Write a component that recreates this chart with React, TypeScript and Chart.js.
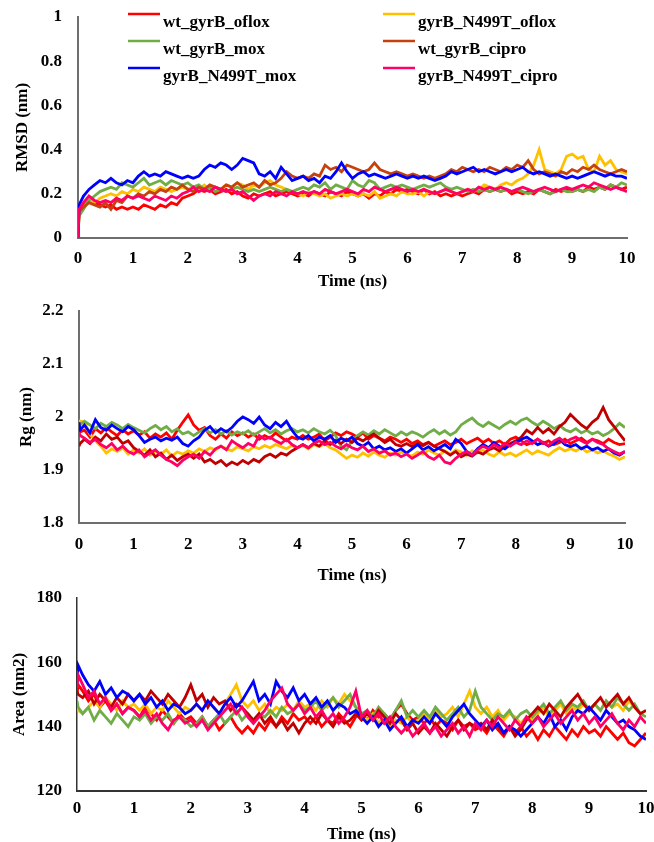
import React, { useEffect, useRef } from "react";
import { Chart, registerables } from "chart.js";

Chart.register(...registerables);

const SERIF = "'Liberation Serif', 'Times New Roman', serif";

const SERIES_NAMES = [
  "wt_gyrB_oflox",
  "gyrB_N499T_oflox",
  "wt_gyrB_mox",
  "wt_gyrB_cipro",
  "gyrB_N499T_mox",
  "gyrB_N499T_cipro",
];

const COLORS_TOP = ["#FF0000", "#FFC000", "#70AD47", "#C5420F", "#0000FF", "#FF0066"];
const COLORS_LOWER = ["#FF0000", "#FFC000", "#70AD47", "#C00000", "#0000FF", "#FF0066"];

const TIME = [
  0, 0.02,
  0.1, 0.2, 0.3, 0.4, 0.5, 0.6, 0.7, 0.8, 0.9, 1,
  1.1, 1.2, 1.3, 1.4, 1.5, 1.6, 1.7, 1.8, 1.9, 2,
  2.1, 2.2, 2.3, 2.4, 2.5, 2.6, 2.7, 2.8, 2.9, 3,
  3.1, 3.2, 3.3, 3.4, 3.5, 3.6, 3.7, 3.8, 3.9, 4,
  4.1, 4.2, 4.3, 4.4, 4.5, 4.6, 4.7, 4.8, 4.9, 5,
  5.1, 5.2, 5.3, 5.4, 5.5, 5.6, 5.7, 5.8, 5.9, 6,
  6.1, 6.2, 6.3, 6.4, 6.5, 6.6, 6.7, 6.8, 6.9, 7,
  7.1, 7.2, 7.3, 7.4, 7.5, 7.6, 7.7, 7.8, 7.9, 8,
  8.1, 8.2, 8.3, 8.4, 8.5, 8.6, 8.7, 8.8, 8.9, 9,
  9.1, 9.2, 9.3, 9.4, 9.5, 9.6, 9.7, 9.8, 9.9, 10,
];

const X_TICKS = [0, 1, 2, 3, 4, 5, 6, 7, 8, 9, 10];
const RMSD_TICKS = [0, 0.2, 0.4, 0.6, 0.8, 1];
const RG_TICKS = [1.8, 1.9, 2, 2.1, 2.2];
const AREA_TICKS = [120, 140, 160, 180];

// ---------- RMSD (nm) ----------
const RMSD_WT_OFLOX = [
  0, 0.12,
  0.15, 0.17, 0.16, 0.15, 0.14, 0.15, 0.13, 0.14, 0.13, 0.14,
  0.13, 0.15, 0.14, 0.13, 0.15, 0.14, 0.16, 0.15, 0.18, 0.19,
  0.20, 0.22, 0.21, 0.22, 0.20, 0.21, 0.22, 0.20, 0.21, 0.19,
  0.18, 0.20, 0.19, 0.20, 0.21, 0.19, 0.20, 0.21, 0.20, 0.19,
  0.20, 0.19, 0.21, 0.20, 0.19, 0.21, 0.20, 0.19, 0.21, 0.20,
  0.19, 0.20, 0.18, 0.20, 0.19, 0.21, 0.20, 0.22, 0.21, 0.22,
  0.21, 0.20, 0.22, 0.20, 0.21, 0.19, 0.20, 0.19, 0.20, 0.19,
  0.20, 0.21, 0.20, 0.22, 0.21, 0.22, 0.21, 0.22, 0.20, 0.21,
  0.20, 0.21, 0.20, 0.22, 0.21, 0.20, 0.22, 0.21, 0.22, 0.21,
  0.22, 0.21, 0.23, 0.22, 0.23, 0.22, 0.24, 0.23, 0.22, 0.23,
];
const RMSD_MUT_OFLOX = [
  0, 0.12,
  0.14, 0.17, 0.16, 0.18, 0.19, 0.20, 0.19, 0.21, 0.20, 0.22,
  0.21, 0.23, 0.22, 0.21, 0.23, 0.22, 0.21, 0.22, 0.23, 0.22,
  0.23, 0.22, 0.24, 0.22, 0.23, 0.22, 0.24, 0.23, 0.25, 0.24,
  0.22, 0.24, 0.23, 0.25, 0.26, 0.24, 0.23, 0.22, 0.21, 0.20,
  0.19, 0.21, 0.20, 0.19, 0.20, 0.18, 0.19, 0.20, 0.19, 0.20,
  0.19, 0.20, 0.19, 0.21, 0.18, 0.19, 0.20, 0.19, 0.21, 0.20,
  0.20, 0.21, 0.19, 0.21, 0.20, 0.21, 0.22, 0.21, 0.20, 0.21,
  0.22, 0.21, 0.22, 0.24, 0.23, 0.22, 0.24, 0.25, 0.24, 0.26,
  0.27, 0.29, 0.33, 0.40, 0.31, 0.30, 0.29, 0.31, 0.37, 0.38,
  0.36, 0.37, 0.31, 0.30, 0.37, 0.33, 0.35, 0.31, 0.30, 0.29,
];
const RMSD_WT_MOX = [
  0, 0.10,
  0.13, 0.17, 0.19, 0.21, 0.22, 0.23, 0.22, 0.25, 0.24, 0.23,
  0.25, 0.27, 0.24, 0.25, 0.26, 0.24, 0.26, 0.25, 0.24, 0.25,
  0.23, 0.24, 0.22, 0.23, 0.21, 0.22, 0.21, 0.22, 0.23, 0.22,
  0.21, 0.22, 0.21, 0.22, 0.23, 0.22, 0.21, 0.22, 0.21, 0.22,
  0.23, 0.22, 0.24, 0.23, 0.25, 0.22, 0.24, 0.23, 0.22, 0.26,
  0.24, 0.23, 0.26, 0.25, 0.22, 0.23, 0.24, 0.23, 0.24, 0.23,
  0.22, 0.23, 0.24, 0.23, 0.24, 0.25, 0.23, 0.22, 0.23, 0.22,
  0.21, 0.22, 0.21, 0.22, 0.21, 0.22, 0.21, 0.22, 0.21, 0.22,
  0.21, 0.20, 0.21, 0.22, 0.21, 0.20, 0.21, 0.22, 0.21, 0.21,
  0.22, 0.21, 0.22, 0.21, 0.23, 0.22, 0.24, 0.23, 0.25, 0.24,
];
const RMSD_WT_CIPRO = [
  0, 0.12,
  0.14, 0.16, 0.15, 0.14, 0.16, 0.13, 0.17, 0.16, 0.19, 0.18,
  0.20, 0.19, 0.21, 0.20, 0.22, 0.21, 0.23, 0.22, 0.24, 0.22,
  0.21, 0.23, 0.22, 0.24, 0.23, 0.22, 0.24, 0.23, 0.25, 0.23,
  0.24, 0.25, 0.23, 0.26, 0.24, 0.25, 0.27, 0.30, 0.28, 0.27,
  0.28, 0.27, 0.29, 0.28, 0.33, 0.31, 0.32, 0.30, 0.33, 0.32,
  0.31, 0.30, 0.31, 0.34, 0.31, 0.30, 0.29, 0.30, 0.29, 0.28,
  0.29, 0.28, 0.27, 0.28, 0.27, 0.28, 0.29, 0.31, 0.30, 0.32,
  0.31, 0.30, 0.31, 0.30, 0.32, 0.31, 0.30, 0.32, 0.31, 0.33,
  0.32, 0.35, 0.31, 0.29, 0.30, 0.29, 0.28, 0.30, 0.29, 0.31,
  0.30, 0.32, 0.31, 0.33, 0.31, 0.30, 0.29, 0.30, 0.31, 0.30,
];
const RMSD_MUT_MOX = [
  0, 0.15,
  0.19, 0.22, 0.24, 0.26, 0.25, 0.27, 0.25, 0.24, 0.26, 0.25,
  0.28, 0.30, 0.28, 0.29, 0.28, 0.30, 0.29, 0.28, 0.27, 0.28,
  0.27, 0.28, 0.31, 0.33, 0.32, 0.34, 0.33, 0.31, 0.33, 0.36,
  0.35, 0.34, 0.29, 0.28, 0.30, 0.27, 0.32, 0.29, 0.26, 0.27,
  0.28, 0.26, 0.27, 0.25, 0.28, 0.27, 0.30, 0.34, 0.30, 0.27,
  0.29, 0.30, 0.28, 0.29, 0.28, 0.27, 0.28, 0.29, 0.28, 0.27,
  0.28, 0.27, 0.28, 0.27, 0.26, 0.27, 0.28, 0.30, 0.29, 0.30,
  0.31, 0.32, 0.30, 0.31, 0.30, 0.29, 0.30, 0.31, 0.30, 0.31,
  0.32, 0.30, 0.29, 0.30, 0.29, 0.28, 0.29, 0.28, 0.27, 0.28,
  0.27, 0.28, 0.29, 0.30, 0.29, 0.28, 0.29, 0.28, 0.28, 0.27,
];
const RMSD_MUT_CIPRO = [
  0, 0.13,
  0.16, 0.19, 0.17, 0.16, 0.17, 0.16, 0.18, 0.17, 0.19, 0.18,
  0.19, 0.18, 0.17, 0.19, 0.18, 0.17, 0.19, 0.18, 0.20, 0.21,
  0.23, 0.21, 0.22, 0.21, 0.23, 0.22, 0.21, 0.22, 0.20, 0.21,
  0.19, 0.17, 0.19, 0.20, 0.19, 0.21, 0.20, 0.19, 0.21, 0.20,
  0.21, 0.20, 0.21, 0.20, 0.22, 0.21, 0.20, 0.21, 0.22, 0.21,
  0.20, 0.22, 0.21, 0.23, 0.22, 0.21, 0.22, 0.23, 0.22, 0.21,
  0.22, 0.21, 0.22, 0.21, 0.20, 0.21, 0.22, 0.21, 0.20, 0.21,
  0.22, 0.21, 0.23, 0.22, 0.23, 0.22, 0.23, 0.22, 0.21, 0.22,
  0.23, 0.22, 0.21, 0.22, 0.23, 0.22, 0.21, 0.22, 0.23, 0.22,
  0.23, 0.24, 0.23, 0.25, 0.24, 0.23, 0.22, 0.23, 0.22, 0.21,
];

// ---------- Rg (nm) ----------
const RG_WT_OFLOX = [
  1.968, 1.972,
  1.975, 1.962, 1.978, 1.970, 1.980, 1.972, 1.965, 1.976, 1.968, 1.974,
  1.966, 1.972, 1.960, 1.968, 1.962, 1.970, 1.958, 1.975, 1.990, 2.004,
  1.985, 1.975, 1.980, 1.965, 1.958, 1.968, 1.960, 1.972, 1.965, 1.970,
  1.962, 1.968, 1.958, 1.965, 1.960, 1.970, 1.962, 1.955, 1.962, 1.958,
  1.965, 1.958, 1.962, 1.968, 1.955, 1.962, 1.970, 1.965, 1.972, 1.968,
  1.962, 1.970, 1.958, 1.965, 1.960, 1.955, 1.962, 1.958, 1.952, 1.958,
  1.950, 1.955, 1.948, 1.952, 1.945, 1.950, 1.955, 1.948, 1.952, 1.958,
  1.950, 1.955, 1.960, 1.952, 1.958, 1.950, 1.955, 1.948, 1.958, 1.962,
  1.955, 1.948, 1.952, 1.958, 1.950, 1.955, 1.948, 1.952, 1.958, 1.950,
  1.955, 1.960, 1.952, 1.958, 1.955, 1.950, 1.958, 1.952, 1.948, 1.950,
];
const RG_MUT_OFLOX = [
  1.985, 1.992,
  1.990, 1.968, 1.955, 1.945, 1.932, 1.940, 1.935, 1.942, 1.930, 1.938,
  1.932, 1.940, 1.928, 1.935, 1.930, 1.938, 1.926, 1.934, 1.930, 1.936,
  1.932, 1.940, 1.935, 1.942, 1.938, 1.945, 1.940, 1.936, 1.944, 1.940,
  1.936, 1.944, 1.940, 1.946, 1.942, 1.948, 1.944, 1.940, 1.946, 1.942,
  1.946, 1.940, 1.948, 1.944, 1.950, 1.942, 1.938, 1.930, 1.922, 1.928,
  1.924, 1.932, 1.926, 1.934, 1.928, 1.924, 1.932, 1.928, 1.934, 1.930,
  1.926, 1.934, 1.930, 1.938, 1.932, 1.928, 1.936, 1.930, 1.938, 1.934,
  1.928, 1.936, 1.932, 1.938, 1.930, 1.926, 1.934, 1.928, 1.932, 1.926,
  1.932, 1.938, 1.930, 1.936, 1.932, 1.928, 1.936, 1.942, 1.936, 1.940,
  1.936, 1.942, 1.934, 1.938, 1.932, 1.936, 1.930, 1.926, 1.920, 1.925,
];
const RG_WT_MOX = [
  1.975, 1.985,
  1.992, 1.985, 1.978, 1.988, 1.982, 1.990, 1.985, 1.978, 1.986, 1.980,
  1.975, 1.970, 1.978, 1.984, 1.976, 1.982, 1.972, 1.978, 1.968, 1.972,
  1.965, 1.972, 1.978, 1.970, 1.976, 1.968, 1.974, 1.966, 1.972, 1.968,
  1.974, 1.966, 1.972, 1.978, 1.970, 1.976, 1.968, 1.974, 1.978, 1.972,
  1.976, 1.970, 1.978, 1.972, 1.968, 1.975, 1.965, 1.945, 1.938, 1.955,
  1.965, 1.972, 1.966, 1.974, 1.968, 1.976, 1.970, 1.964, 1.972, 1.966,
  1.972, 1.968, 1.962, 1.970, 1.976, 1.968, 1.974, 1.966, 1.972, 1.985,
  1.992, 1.998, 1.988, 1.982, 1.990, 1.984, 1.978, 1.986, 1.992, 1.986,
  1.994, 1.998, 1.990, 1.984, 1.992, 1.986, 1.978, 1.984, 1.976, 1.972,
  1.978, 1.970, 1.975, 1.968, 1.972, 1.965, 1.970, 1.978, 1.988, 1.980,
];
const RG_WT_CIPRO = [
  1.945, 1.950,
  1.958, 1.950, 1.962, 1.955, 1.968, 1.958, 1.962, 1.950, 1.955, 1.942,
  1.935, 1.928, 1.938, 1.925, 1.932, 1.920, 1.928, 1.918, 1.925, 1.930,
  1.922, 1.930, 1.915, 1.920, 1.912, 1.918, 1.908, 1.915, 1.910, 1.918,
  1.912, 1.920, 1.915, 1.925, 1.930, 1.924, 1.932, 1.928, 1.936, 1.942,
  1.948, 1.942, 1.950, 1.945, 1.955, 1.948, 1.956, 1.950, 1.958, 1.952,
  1.960, 1.955, 1.962, 1.968, 1.960, 1.952, 1.958, 1.948, 1.945, 1.950,
  1.944, 1.950, 1.946, 1.952, 1.945, 1.940, 1.935, 1.928, 1.935, 1.925,
  1.930, 1.926, 1.934, 1.930, 1.938, 1.942, 1.936, 1.945, 1.950, 1.955,
  1.962, 1.975, 1.968, 1.980, 1.970, 1.978, 1.968, 1.982, 1.990, 2.005,
  1.995, 1.985, 1.978, 1.990, 1.998, 2.018, 1.995, 1.982, 1.968, 1.955,
];
const RG_MUT_MOX = [
  1.990, 1.975,
  1.985, 1.970, 1.995, 1.980, 1.975, 1.985, 1.978, 1.972, 1.982, 1.976,
  1.965, 1.952, 1.958, 1.962, 1.955, 1.960, 1.956, 1.962, 1.950, 1.945,
  1.955, 1.962, 1.975, 1.982, 1.970, 1.978, 1.972, 1.980, 1.992, 2.000,
  1.995, 1.988, 2.000, 1.985, 1.978, 1.990, 1.982, 1.992, 1.975, 1.962,
  1.958, 1.965, 1.955, 1.962, 1.958, 1.965, 1.952, 1.960, 1.955, 1.962,
  1.950, 1.945, 1.952, 1.940, 1.945, 1.938, 1.942, 1.935, 1.940, 1.932,
  1.940, 1.948, 1.938, 1.944, 1.936, 1.942, 1.948, 1.940, 1.958, 1.950,
  1.935, 1.928, 1.940, 1.948, 1.942, 1.952, 1.945, 1.940, 1.948, 1.952,
  1.958, 1.962, 1.955, 1.948, 1.952, 1.945, 1.950, 1.958, 1.948, 1.944,
  1.948, 1.940, 1.945, 1.938, 1.942, 1.935, 1.940, 1.932, 1.928, 1.935,
];
const RG_MUT_CIPRO = [
  1.972, 1.965,
  1.960, 1.952, 1.958, 1.948, 1.942, 1.950, 1.938, 1.945, 1.935, 1.930,
  1.938, 1.925, 1.932, 1.938, 1.928, 1.920, 1.915, 1.908, 1.918, 1.925,
  1.930, 1.922, 1.935, 1.928, 1.940, 1.945, 1.938, 1.955, 1.948, 1.942,
  1.950, 1.945, 1.965, 1.958, 1.962, 1.955, 1.950, 1.958, 1.948, 1.942,
  1.948, 1.942, 1.950, 1.955, 1.948, 1.952, 1.945, 1.940, 1.948, 1.942,
  1.938, 1.945, 1.935, 1.940, 1.932, 1.936, 1.928, 1.932, 1.925, 1.930,
  1.922, 1.928, 1.935, 1.925, 1.920, 1.928, 1.915, 1.912, 1.922, 1.930,
  1.935, 1.928, 1.938, 1.945, 1.940, 1.948, 1.942, 1.950, 1.945, 1.952,
  1.948, 1.955, 1.950, 1.958, 1.952, 1.946, 1.955, 1.960, 1.952, 1.958,
  1.962, 1.955, 1.950, 1.958, 1.952, 1.948, 1.940, 1.935, 1.930, 1.935,
];

// ---------- Area (nm2) ----------
const AREA_WT_OFLOX = [
  150, 153,
  151, 148, 150, 146, 148, 145, 147, 144, 146, 145,
  143, 146, 144, 142, 145, 143, 141, 144, 142, 143,
  141, 143, 140, 142, 139, 141, 143, 140, 138, 140,
  138, 141, 139, 142, 140, 143, 141, 144, 142, 143,
  141, 143, 140, 142, 141, 144, 142, 140, 143, 144,
  142, 145, 143, 144, 142, 145, 147, 144, 142, 143,
  141, 143, 140, 142, 141, 139, 142, 140, 141, 139,
  140, 138, 141, 139, 137, 140, 138, 140, 137, 139,
  136, 139, 137, 140, 138, 136, 139, 137, 140, 138,
  139, 137, 140, 138, 136, 138, 135, 134, 136, 138,
];
const AREA_MUT_OFLOX = [
  147, 145,
  144, 146, 148, 146, 149, 147, 145, 148, 146, 147,
  145, 147, 144, 146, 145, 148, 146, 144, 146, 145,
  147, 145, 148, 146, 144, 147, 150, 153, 148, 146,
  148, 145, 147, 144, 146, 145, 147, 145, 148, 146,
  147, 145, 148, 146, 149, 147, 150, 148, 146, 144,
  142, 144, 141, 143, 140, 142, 141, 143, 141, 142,
  144, 142, 145, 143, 144, 146, 143, 147, 151, 146,
  144, 146, 143, 145, 142, 144, 143, 141, 143, 142,
  144, 146, 143, 145, 147, 144, 146, 145, 147, 145,
  147, 145, 148, 146, 147, 145, 148, 146, 144, 145,
];
const AREA_WT_MOX = [
  148, 146,
  144, 146, 142, 145, 143, 141, 144, 142, 140, 143,
  142, 144, 141, 143, 142, 144, 141, 143, 142, 140,
  141, 143, 140, 142, 144, 141, 143, 145, 142, 144,
  142, 144, 143, 145, 143, 146, 144, 145, 147, 145,
  146, 148, 145, 147, 149, 146, 148, 150, 146, 144,
  145, 143, 146, 144, 142, 145, 148, 143, 145, 143,
  145, 143, 146, 144, 142, 144, 146, 143, 145, 151,
  146, 144, 142, 144, 143, 145, 142, 144, 145, 143,
  145, 147, 144, 146, 148, 145, 147, 146, 148, 145,
  147, 145, 148, 146, 149, 147, 145, 147, 144, 143,
];
const AREA_WT_CIPRO = [
  151, 150,
  149, 151, 147, 150, 148, 146, 149, 147, 150, 148,
  150, 148, 151, 149, 147, 150, 148, 146, 149, 153,
  148, 150, 146, 149, 147, 148, 145, 147, 146, 144,
  142, 144, 141, 143, 140, 142, 139, 141, 138, 141,
  143, 141, 144, 142, 140, 143, 141, 142, 144, 142,
  144, 142, 145, 143, 141, 144, 142, 139, 141, 138,
  140, 138, 141, 139, 137, 140, 142, 139, 141, 140,
  141, 139, 142, 140, 138, 140, 137, 139, 142, 144,
  146, 144, 147, 145, 143, 146, 148, 150, 147, 145,
  147, 149, 146, 148, 150, 147, 149, 146, 144, 145,
];
const AREA_MUT_MOX = [
  155, 159,
  156, 153, 151, 154, 150, 152, 149, 151, 150, 148,
  150, 147, 149, 146, 148, 145, 147, 146, 144, 145,
  147, 145, 148, 146, 144, 147, 149, 146, 148, 151,
  154, 148, 150, 147, 154, 151, 149, 152, 148, 150,
  147, 149, 146, 148, 145, 147, 146, 144, 145, 143,
  141, 143, 140, 142, 139, 141, 143, 140, 142, 141,
  143, 141, 144, 142, 140, 143, 145, 147, 144, 142,
  140, 142, 139, 141, 138, 140, 139, 137, 139, 141,
  143, 141, 144, 140, 142, 139, 143, 145, 144, 146,
  144, 142, 145, 143, 141, 142, 140, 139, 137, 136,
];
const AREA_MUT_CIPRO = [
  152, 156,
  153, 149, 151, 147, 149, 145, 147, 144, 146, 145,
  143, 145, 142, 144, 141, 139, 142, 143, 141, 142,
  140, 142, 139, 141, 143, 145, 147, 144, 146, 143,
  141, 143, 145, 148, 150, 152, 147, 145, 147, 144,
  146, 143, 145, 142, 144, 141, 143, 146, 151, 143,
  145, 142, 144, 141, 143, 140, 138, 140, 137, 139,
  141, 138, 140, 137, 139, 141, 138, 140, 137, 141,
  139, 142, 140, 143, 141, 139, 142, 140, 143, 141,
  143, 140, 142, 144, 141, 143, 145, 142, 144, 141,
  143, 140, 142, 144, 141, 139, 142, 140, 143, 141,
];

const RMSD_SERIES = [RMSD_WT_OFLOX, RMSD_MUT_OFLOX, RMSD_WT_MOX, RMSD_WT_CIPRO, RMSD_MUT_MOX, RMSD_MUT_CIPRO];
const RG_SERIES = [RG_WT_OFLOX, RG_MUT_OFLOX, RG_WT_MOX, RG_WT_CIPRO, RG_MUT_MOX, RG_MUT_CIPRO];
const AREA_SERIES = [AREA_WT_OFLOX, AREA_MUT_OFLOX, AREA_WT_MOX, AREA_WT_CIPRO, AREA_MUT_MOX, AREA_MUT_CIPRO];

const fmt = (v: number) => String(Math.round(v * 100) / 100);

const legendPlugin = {
  id: "gridLegend",
  afterDraw(chart: any) {
    const ctx = chart.ctx as CanvasRenderingContext2D;
    ctx.save();
    ctx.font = `bold 17px ${SERIF}`;
    ctx.textBaseline = "middle";
    ctx.textAlign = "left";
    SERIES_NAMES.forEach((name, k) => {
      const col = k % 2;
      const row = Math.floor(k / 2);
      const lx = col === 0 ? 128 : 383;
      const ly = 14 + row * 27;
      ctx.strokeStyle = COLORS_TOP[k];
      ctx.lineWidth = 2.5;
      ctx.beginPath();
      ctx.moveTo(lx, ly);
      ctx.lineTo(lx + 32, ly);
      ctx.stroke();
      ctx.fillStyle = "#000";
      ctx.fillText(name, lx + 35, ly + 9);
    });
    ctx.restore();
  },
};

type PanelProps = {
  top: number;
  height: number;
  padTop: number;
  padRight: number;
  axisW: number;
  axisH: number;
  yMin: number;
  yMax: number;
  yTicks: number[];
  yTitle: string;
  yTitlePad: number;
  yTickPad: number;
  xTickPad: number;
  xTitlePad: number;
  series: number[][];
  colors: string[];
  legend?: boolean;
  axisColor: string;
  yBorderWidth: number;
  xBorderWidth: number;
};

function Panel(p: PanelProps) {
  const ref = useRef<HTMLCanvasElement>(null);
  useEffect(() => {
    const canvas = ref.current;
    if (!canvas) return;
    const font = { family: SERIF, size: 17, weight: "bold" as const };
    const chart = new Chart(canvas, {
      type: "line",
      data: {
        datasets: p.series.map((vals, i) => ({
          label: SERIES_NAMES[i],
          data: TIME.map((t, j) => ({ x: t, y: vals[j] })),
          borderColor: p.colors[i],
          backgroundColor: p.colors[i],
          borderWidth: 2.8,
          pointRadius: 0,
          tension: 0,
          fill: false,
          order: p.series.length - 1 - i,
        })),
      },
      options: {
        responsive: false,
        maintainAspectRatio: false,
        animation: false,
        layout: { padding: { left: 0, top: p.padTop, right: p.padRight, bottom: 0 } },
        plugins: { legend: { display: false }, tooltip: { enabled: false } },
        scales: {
          x: {
            type: "linear",
            min: 0,
            max: 10,
            afterBuildTicks: (s: any) => {
              s.ticks = X_TICKS.map((v) => ({ value: v }));
            },
            afterFit: (s: any) => {
              s.height = p.axisH;
              s.paddingLeft = 0;
              s.paddingRight = 0;
            },
            grid: { display: false, drawTicks: false },
            border: { display: true, color: p.axisColor, width: p.xBorderWidth },
            ticks: {
              padding: p.xTickPad,
              font,
              color: "#000",
              maxRotation: 0,
              autoSkip: false,
              callback: (v: any) => fmt(Number(v)),
            },
            title: {
              display: true,
              text: "Time (ns)",
              font,
              color: "#000",
              padding: { top: 0, bottom: p.xTitlePad },
            },
          },
          y: {
            type: "linear",
            min: p.yMin,
            max: p.yMax,
            afterBuildTicks: (s: any) => {
              s.ticks = p.yTicks.map((v) => ({ value: v }));
            },
            afterFit: (s: any) => {
              s.width = p.axisW;
              s.paddingTop = 0;
              s.paddingBottom = 0;
            },
            grid: { display: false, drawTicks: false },
            border: { display: true, color: p.axisColor, width: p.yBorderWidth },
            ticks: {
              padding: p.yTickPad,
              font,
              color: "#000",
              autoSkip: false,
              callback: (v: any) => fmt(Number(v)),
            },
            title: {
              display: true,
              text: p.yTitle,
              font,
              color: "#000",
              padding: { top: p.yTitlePad, bottom: 0 },
            },
          },
        },
      },
      plugins: p.legend ? [legendPlugin] : [],
    } as any);
    return () => chart.destroy();
  }, []);
  return (
    <canvas
      ref={ref}
      width={654}
      height={p.height}
      style={{ position: "absolute", left: 0, top: p.top, width: 654, height: p.height, display: "block" }}
    />
  );
}

export default function App() {
  return (
    <div
      style={{
        position: "fixed",
        left: 0,
        top: 0,
        width: 654,
        height: 842,
        overflow: "hidden",
        background: "#fff",
      }}
    >
      <Panel
        top={0}
        height={300}
        padTop={17}
        padRight={27}
        axisW={78}
        axisH={62}
        yMin={0}
        yMax={1}
        yTicks={RMSD_TICKS}
        yTitle="RMSD (nm)"
        yTitlePad={12.8}
        yTickPad={16}
        xTickPad={10.8}
        xTitlePad={7.8}
        series={RMSD_SERIES}
        colors={COLORS_TOP}
        legend
        axisColor="#6e6e6e"
        yBorderWidth={2}
        xBorderWidth={2}
      />
      <Panel
        top={300}
        height={290}
        padTop={11}
        padRight={29}
        axisW={79}
        axisH={67}
        yMin={1.8}
        yMax={2.2}
        yTicks={RG_TICKS}
        yTitle="Rg (nm)"
        yTitlePad={16.8}
        yTickPad={15.5}
        xTickPad={11.8}
        xTitlePad={3.8}
        series={RG_SERIES}
        colors={COLORS_LOWER}
        axisColor="#6e6e6e"
        yBorderWidth={2}
        xBorderWidth={2}
      />
      <Panel
        top={585}
        height={265}
        padTop={12.7}
        padRight={8}
        axisW={77}
        axisH={59}
        yMin={120}
        yMax={180}
        yTicks={AREA_TICKS}
        yTitle="Area (nm2)"
        yTitlePad={9.8}
        yTickPad={15}
        xTickPad={7.8}
        xTitlePad={4.8}
        series={AREA_SERIES}
        colors={COLORS_LOWER}
        axisColor="#333333"
        yBorderWidth={1.5}
        xBorderWidth={2}
      />
    </div>
  );
}
